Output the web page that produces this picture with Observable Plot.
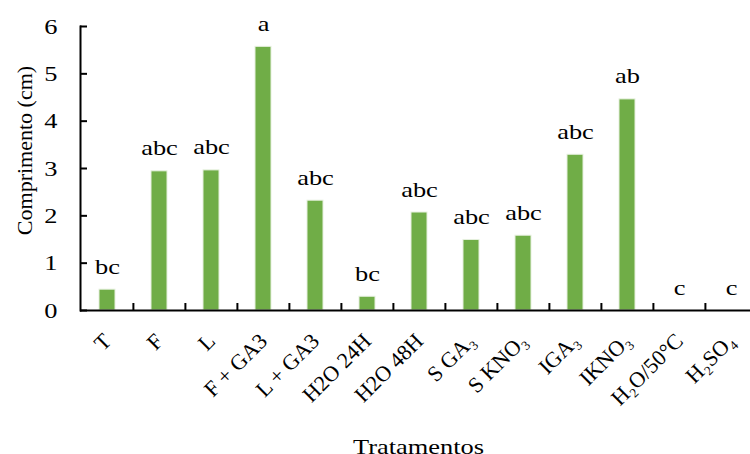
<!DOCTYPE html>
<html>
<head>
<meta charset="utf-8">
<script src="https://cdn.jsdelivr.net/npm/d3@7"></script>
<script src="https://cdn.jsdelivr.net/npm/@observablehq/plot@0.6"></script>
<style>
  html, body { margin: 0; padding: 0; background: #fff; }
  svg, svg text { font-family: "Liberation Serif", "Times New Roman", serif !important; }
</style>
</head>
<body>
<div id="chart"></div>
<script>
const categories = ["T", "F", "L", "F + GA3", "L + GA3", "H2O 24H", "H2O 48H", "S GA₃", "S KNO₃", "IGA₃", "IKNO₃", "H₂O/50°C", "H₂SO₄"];
const values = [0.44, 2.94, 2.96, 5.57, 2.32, 0.29, 2.07, 1.49, 1.58, 3.29, 4.46, 0, 0];
const letters = ["bc", "abc", "abc", "a", "abc", "bc", "abc", "abc", "abc", "abc", "ab", "c", "c"];
const yTicks = [0, 1, 2, 3, 4, 5, 6];
const yLabel = "Comprimento (cm)";
const xLabel = "Tratamentos";

const data = categories.map((c, i) => ({cat: c, value: values[i], letter: letters[i]}));
const ff = "Liberation Serif";

const chart = Plot.plot({
  width: 750,
  height: 454,
  marginLeft: 80,
  marginRight: 0,
  marginTop: 26,
  marginBottom: 144,
  style: {fontFamily: ff, fontSize: "22px", color: "#000", background: "#fff", overflow: "hidden"},
  x: {domain: categories, range: [80, 759], paddingInner: 0.69, paddingOuter: 0.345, align: 0.5},
  y: {domain: [0, 6]},
  marks: [
    Plot.barY(data, {x: "cat", y: "value", fill: "#70AD47", stroke: "#e6f0de", strokeWidth: 1}),
    Plot.axisY({ticks: yTicks, tickSize: 0, tickPadding: 23, tickFormat: d => d, fontSize: 22, fontFamily: ff, label: null}),
    Plot.axisY({ticks: yTicks, tickSize: -7, text: null, strokeWidth: 2, label: null}),
    Plot.axisX({tickSize: 0, tickRotate: -45, tickPadding: 27, label: null, fontSize: 22, fontFamily: ff}),
    Plot.ruleX(categories.slice(1), {x: d => d, dx: -26.1, insetTop: 277, strokeWidth: 2}),
    Plot.ruleY([0], {strokeWidth: 2}),
    Plot.frame({anchor: "left", strokeWidth: 2}),
    Plot.text(data, {x: "cat", y: "value", text: "letter", dy: -16, lineAnchor: "bottom", fontSize: 22, fontFamily: ff}),
    Plot.text([yLabel], {frameAnchor: "left", textAnchor: "middle", rotate: -90, dx: -56, dy: -18, fontSize: 22, fontFamily: ff}),
    Plot.text([xLabel], {frameAnchor: "bottom", textAnchor: "middle", dx: 3, dy: 143, lineAnchor: "bottom", fontSize: 22, fontFamily: ff})
  ]
});

// widen horizontal texts slightly (reference glyphs are horizontally stretched)
function widen(t, k) {
  const tr = t.getAttribute("transform");
  if (tr) {
    t.setAttribute("transform", tr + ` scale(${k},1)`);
  } else {
    const x = +(t.getAttribute("x") || 0), y = +(t.getAttribute("y") || 0);
    t.removeAttribute("x"); t.removeAttribute("y");
    t.setAttribute("transform", `translate(${x},${y}) scale(${k},1)`);
  }
}
const textGroups = chart.querySelectorAll('g[aria-label="text"]');
[0, 2].forEach(i => {
  if (textGroups[i]) textGroups[i].querySelectorAll("text").forEach(t => widen(t, 1.2));
});
const yLabels = chart.querySelector('g[aria-label="y-axis tick label"]');
if (yLabels) yLabels.querySelectorAll("text").forEach(t => widen(t, 1.2));
document.getElementById("chart").appendChild(chart);
</script>
</body>
</html>
